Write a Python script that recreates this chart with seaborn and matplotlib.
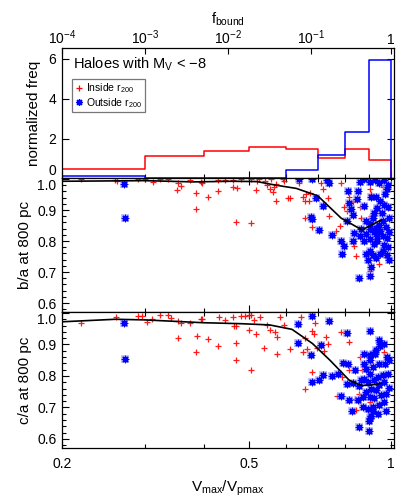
import numpy as np
import pandas as pd
import matplotlib
matplotlib.use("Agg")
import matplotlib.pyplot as plt
import seaborn as sns
from matplotlib.ticker import FixedLocator, FixedFormatter, NullFormatter, NullLocator, MultipleLocator
from matplotlib.lines import Line2D

# normalized histogram of Vmax/Vpmax, bins of 0.1
hist_edges = [0.2, 0.3, 0.4, 0.5, 0.6, 0.7, 0.8, 0.9, 1.0]
hist_inside = [0.46, 1.14, 1.39, 1.59, 1.49, 1.03, 1.49, 0.91]
hist_outside = [0.14, 0.0, 0.0, 0.0, 0.41, 1.16, 2.31, 5.95]

# f_bound labels and where they fall on the Vmax/Vpmax axis
fbound_pos = [0.2, 0.3, 0.451, 0.676, 1.0]
fbound_labels = ['$10^{-4}$', '$10^{-3}$', '$10^{-2}$', '$10^{-1}$', '1']

# b/a, inside r200
ba_in_x = [0.219, 0.259, 0.262, 0.290, 0.301, 0.312, 0.324, 0.336, 0.353, 0.358, 0.352, 0.374, 0.386, 0.386,
           0.408, 0.396, 0.398, 0.430, 0.429, 0.444, 0.462, 0.472, 0.470, 0.505, 0.462, 0.481, 0.504, 0.524,
           0.540, 0.546, 0.518, 0.562, 0.565, 0.571, 0.571, 0.594, 0.610, 0.556, 0.590, 0.553, 0.605, 0.651,
           0.661, 0.675, 0.672, 0.659, 0.712, 0.718, 0.736, 0.785, 0.817, 0.831, 0.659, 0.681, 0.739, 0.781,
           0.765, 0.798, 0.807, 0.836, 0.843, 0.902, 0.895, 0.917, 0.947, 0.932, 0.962, 0.909, 0.873, 0.917,
           0.947, 0.978, 0.963, 0.902, 0.866, 0.859, 0.909, 0.640, 0.520]
ba_in_y = [0.999, 0.997, 0.993, 1.000, 1.000, 0.991, 1.000, 1.000, 0.986, 0.978, 0.965, 0.997, 0.954, 0.903,
           0.941, 0.992, 0.986, 0.997, 0.962, 0.997, 0.973, 0.970, 0.862, 0.857, 0.997, 1.000, 1.000, 1.000,
           0.995, 0.982, 0.965, 0.957, 0.975, 0.984, 0.930, 0.995, 0.938, 0.999, 1.000, 0.968, 0.939, 0.943,
           0.952, 0.954, 0.930, 0.930, 0.989, 0.968, 0.939, 0.989, 0.941, 0.925, 0.876, 0.846, 0.882, 0.849,
           0.833, 0.909, 0.896, 0.785, 0.753, 0.704, 0.855, 0.871, 0.898, 0.909, 0.925, 0.952, 0.817, 0.801,
           0.726, 0.747, 0.973, 0.968, 0.876, 0.909, 0.882, 0.989, 0.993]

# b/a, outside r200
ba_out_x = [0.271, 0.272, 0.638, 0.682, 0.732, 0.739, 0.695, 0.717, 0.678, 0.681, 0.706, 0.750, 0.811, 0.851,
            0.847, 0.859, 0.880, 0.902, 0.927, 0.947, 0.970, 0.986, 0.817, 0.880, 0.909, 0.932, 0.950, 0.970,
            0.935, 0.924, 0.975, 0.981, 0.824, 0.831, 0.807, 0.834, 0.784, 0.795, 0.789, 0.831, 0.887, 0.905,
            0.920, 0.935, 0.950, 0.902, 0.920, 0.935, 0.966, 0.981, 0.970, 0.987, 0.902, 0.887, 0.895, 0.917,
            0.932, 0.950, 0.966, 0.981, 0.990, 0.909, 0.902, 0.856, 0.990, 0.986, 0.963, 0.947, 0.932, 0.978,
            0.887, 0.905, 0.866, 0.876, 0.960, 0.917, 0.994, 0.859]
ba_out_y = [0.984, 0.876, 1.000, 1.000, 0.997, 0.986, 0.939, 0.914, 0.878, 0.871, 0.835, 0.820, 0.962, 0.962,
            0.935, 0.992, 1.000, 0.992, 0.997, 0.986, 0.997, 0.982, 0.922, 0.914, 0.941, 0.943, 0.928, 0.917,
            0.906, 0.889, 0.952, 0.968, 0.903, 0.885, 0.866, 0.825, 0.799, 0.785, 0.758, 0.801, 0.823, 0.839,
            0.828, 0.817, 0.831, 0.806, 0.790, 0.801, 0.817, 0.810, 0.788, 0.782, 0.769, 0.758, 0.739, 0.756,
            0.745, 0.758, 0.769, 0.756, 0.739, 0.715, 0.688, 0.681, 0.876, 0.909, 0.866, 0.853, 0.842, 0.844,
            0.866, 0.855, 0.839, 0.801, 0.889, 0.876, 0.828, 0.817]

# c/a, inside r200
ca_in_x = [0.219, 0.260, 0.290, 0.296, 0.303, 0.311, 0.324, 0.336, 0.341, 0.353, 0.358, 0.353, 0.374, 0.387,
           0.386, 0.408, 0.396, 0.398, 0.430, 0.431, 0.445, 0.462, 0.465, 0.470, 0.470, 0.470, 0.505, 0.481,
           0.490, 0.500, 0.505, 0.500, 0.518, 0.527, 0.512, 0.537, 0.546, 0.553, 0.581, 0.645, 0.594, 0.690,
           0.680, 0.687, 0.657, 0.568, 0.573, 0.573, 0.610, 0.652, 0.663, 0.698, 0.736, 0.729, 0.722, 0.785,
           0.814, 0.682, 0.657, 0.771, 0.789, 0.842, 0.844, 0.902, 0.859, 0.869, 0.895, 0.928, 0.952, 0.968,
           0.928, 0.902, 0.856, 0.817]
ca_in_y = [0.969, 0.986, 0.990, 0.990, 0.972, 0.980, 0.994, 0.994, 0.983, 0.976, 0.969, 0.922, 0.969, 0.927,
           0.876, 0.916, 0.980, 0.982, 0.895, 0.986, 0.978, 0.986, 0.958, 0.958, 0.906, 0.850, 0.820, 0.990,
           0.990, 0.992, 0.994, 0.946, 0.933, 0.988, 0.978, 0.890, 0.962, 0.946, 0.986, 0.986, 0.962, 0.967,
           0.944, 0.933, 0.919, 0.940, 0.924, 0.871, 0.884, 0.876, 0.884, 0.890, 0.903, 0.924, 0.880, 0.940,
           0.908, 0.813, 0.759, 0.735, 0.797, 0.727, 0.692, 0.717, 0.860, 0.820, 0.813, 0.884, 0.894, 0.876,
           0.756, 0.669, 0.743, 0.818]

# c/a, outside r200
ca_out_x = [0.271, 0.272, 0.681, 0.739, 0.634, 0.807, 0.637, 0.712, 0.678, 0.720, 0.706, 0.681, 0.750, 0.772,
            0.791, 0.811, 0.807, 0.830, 0.785, 0.828, 0.856, 0.899, 0.899, 0.905, 0.842, 0.817, 0.852, 0.876,
            0.902, 0.917, 0.932, 0.950, 0.970, 0.981, 0.975, 0.994, 0.947, 0.917, 0.887, 0.902, 0.876, 0.895,
            0.924, 0.939, 0.963, 0.986, 0.970, 0.947, 0.932, 0.909, 0.887, 0.873, 0.902, 0.924, 0.955, 0.978,
            0.994, 0.970, 0.947, 0.917, 0.895, 0.978, 0.939, 0.917, 0.873, 0.950, 0.928, 0.902, 0.880, 0.866,
            0.856, 0.907, 0.902, 0.947]
ca_out_y = [0.967, 0.855, 0.990, 0.976, 0.965, 0.935, 0.905, 0.898, 0.866, 0.802, 0.788, 0.781, 0.799, 0.805,
            0.841, 0.839, 0.775, 0.777, 0.735, 0.688, 0.637, 0.658, 0.626, 0.667, 0.820, 0.722, 0.722, 0.871,
            0.850, 0.871, 0.882, 0.895, 0.903, 0.860, 0.839, 0.850, 0.839, 0.829, 0.823, 0.807, 0.791, 0.781,
            0.786, 0.797, 0.802, 0.807, 0.781, 0.770, 0.754, 0.759, 0.749, 0.733, 0.733, 0.731, 0.738, 0.743,
            0.763, 0.717, 0.706, 0.701, 0.695, 0.690, 0.679, 0.690, 0.701, 0.903, 0.871, 0.866, 0.839, 0.786,
            0.767, 0.674, 0.944, 0.914]

# running medians
ba_med_x = [0.2, 0.30, 0.38, 0.46, 0.52, 0.567, 0.63, 0.70, 0.785, 0.869, 0.955]
ba_med_y = [0.993, 0.995, 0.991, 0.993, 0.992, 0.981, 0.970, 0.946, 0.874, 0.836, 0.868]
ca_med_x = [0.2, 0.26, 0.30, 0.40, 0.48, 0.553, 0.617, 0.682, 0.743, 0.785, 0.817, 0.866, 0.902, 0.955]
ca_med_y = [0.972, 0.980, 0.978, 0.969, 0.966, 0.962, 0.948, 0.903, 0.850, 0.813, 0.786, 0.770, 0.770, 0.777]

x_major = [0.2, 0.5, 1.0]
x_major_labels = ['0.2', '0.5', '1']
x_minor = [0.3, 0.4, 0.6, 0.7, 0.8, 0.9]

sns.set_style('ticks')
plt.rcParams['font.family'] = ['Liberation Sans', 'DejaVu Sans']
plt.rcParams['mathtext.fontset'] = 'custom'
plt.rcParams['mathtext.rm'] = 'Liberation Sans'
plt.rcParams['mathtext.it'] = 'Liberation Sans:italic'
plt.rcParams['text.color'] = 'black'
plt.rcParams['axes.labelcolor'] = 'black'
plt.rcParams['xtick.color'] = 'black'
plt.rcParams['ytick.color'] = 'black'

RED = '#ff0000'
BLUE = '#0000ff'
HALO = '#9a9aff'
ASTER = (8, 2, 0)

fig = plt.figure(figsize=(4.15, 4.98), dpi=100)
ax_h = fig.add_axes([0.1494, 0.6416, 0.8, 0.2620])
ax_b = fig.add_axes([0.1494, 0.3729, 0.8, 0.2687])
ax_c = fig.add_axes([0.1494, 0.0998, 0.8, 0.2730])


def setup(ax, show_x):
    ax.set_xscale('log')
    ax.set_xlim(0.2, 1.017)
    ax.xaxis.set_major_locator(FixedLocator(x_major))
    ax.xaxis.set_minor_locator(FixedLocator(x_minor))
    ax.xaxis.set_minor_formatter(NullFormatter())
    if show_x:
        ax.xaxis.set_major_formatter(FixedFormatter(x_major_labels))
    else:
        ax.xaxis.set_major_formatter(NullFormatter())
    ax.tick_params(which='both', direction='in', top=True, right=True, labelsize=10, width=0.8)
    ax.tick_params(which='major', length=5)
    ax.tick_params(which='minor', length=3)
    ax.tick_params(axis='y', pad=4)
    ax.tick_params(axis='x', pad=6)
    for sp in ax.spines.values():
        sp.set_linewidth(0.9)
        sp.set_color('black')


def stairs(edges, h):
    sx = [edges[0]] + list(edges[:-1]) + [edges[-1], edges[-1]]
    sy = [0.0] + list(h) + [h[-1], 0.0]
    return sx, sy


for ax in (ax_h, ax_b, ax_c):
    setup(ax, ax is ax_c)

# top panel: histograms
sx, sy = stairs(hist_edges, hist_inside)
sns.lineplot(x=sx, y=sy, sort=False, estimator=None, drawstyle='steps-post', color=RED, linewidth=1.1, ax=ax_h)
sx, sy = stairs(hist_edges, hist_outside)
sns.lineplot(x=sx, y=sy, sort=False, estimator=None, drawstyle='steps-post', color=BLUE, linewidth=1.1, ax=ax_h)
ax_h.set_ylim(0, 6.53)
ax_h.yaxis.set_major_locator(FixedLocator([0, 2, 4, 6]))
ax_h.yaxis.set_minor_locator(NullLocator())
ax_h.set_xlabel('')
ax_h.set_ylabel('normalized freq', fontsize=11)
ax_h.yaxis.set_label_coords(-0.063, 0.5)
ax_h.text(0.033, 0.877, 'Haloes with M$_\\mathrm{V}$ < \u22128', transform=ax_h.transAxes,
          fontsize=10.5, va='center', ha='left')
handles = [Line2D([], [], ls='none', marker='+', color=RED, markersize=5, markeredgewidth=0.9),
           Line2D([], [], ls='none', marker=ASTER, color=BLUE, markersize=5, markeredgewidth=0.9)]
leg = ax_h.legend(handles, ['Inside r$_\\mathrm{200}$', 'Outside r$_\\mathrm{200}$'], loc='upper left',
                  bbox_to_anchor=(0.031, 0.763), fontsize=7.5, frameon=True, fancybox=False,
                  handlelength=0.7, handletextpad=0.4, borderpad=0.25, labelspacing=0.05, borderaxespad=0)
leg.get_frame().set_edgecolor('#555555')
leg.get_frame().set_linewidth(0.9)

# top axis: f_bound
top = ax_h.twiny()
top.set_xscale('log')
top.set_xlim(ax_h.get_xlim())
top.xaxis.set_major_locator(FixedLocator(fbound_pos))
top.xaxis.set_major_formatter(FixedFormatter(fbound_labels))
top.xaxis.set_minor_locator(NullLocator())
top.tick_params(which='major', direction='in', length=4, width=0.8, labelsize=10, pad=1)
top.set_xlabel('f$_\\mathrm{bound}$', fontsize=10.5)
top.xaxis.set_label_coords(0.5, 1.19)
for sp in top.spines.values():
    sp.set_visible(False)


def scatter_panel(ax, xi, yi, xo, yo, mx, my, label):
    sns.scatterplot(x=xi, y=yi, marker='+', color=RED, s=22, linewidth=0.9, alpha=0.9, ax=ax)
    sns.scatterplot(x=xo, y=yo, marker='s', color=HALO, s=30, linewidth=0, alpha=0.55, ax=ax)
    sns.scatterplot(x=xo, y=yo, marker=ASTER, color=BLUE, s=22, linewidth=0.9, ax=ax)
    sns.lineplot(x=mx, y=my, sort=False, estimator=None, color='black', linewidth=1.2, ax=ax)
    ax.set_ylim(0.57, 1.002)
    ax.yaxis.set_major_locator(FixedLocator([0.6, 0.7, 0.8, 0.9, 1.0]))
    ax.yaxis.set_major_formatter(FixedFormatter(['0.6', '0.7', '0.8', '0.9', '1.0']))
    ax.yaxis.set_minor_locator(MultipleLocator(0.02))
    ax.set_ylabel(label, fontsize=11)
    ax.yaxis.set_label_coords(-0.09, 0.5)
    ax.set_xlabel('')


scatter_panel(ax_b, ba_in_x, ba_in_y, ba_out_x, ba_out_y, ba_med_x, ba_med_y, 'b/a at 800 pc')
scatter_panel(ax_c, ca_in_x, ca_in_y, ca_out_x, ca_out_y, ca_med_x, ca_med_y, 'c/a at 800 pc')

ax_c.set_xlabel('V$_\\mathrm{max}$/V$_\\mathrm{pmax}$', fontsize=11)
ax_c.xaxis.set_label_coords(0.5, -0.22)

# keep the labels at the panel joins apart
ax_h.get_yticklabels()[0].set_va('bottom')
ax_b.get_yticklabels()[-1].set_va('top')
ax_c.get_yticklabels()[-1].set_va('top')

fig.savefig('out.png', dpi=100)
